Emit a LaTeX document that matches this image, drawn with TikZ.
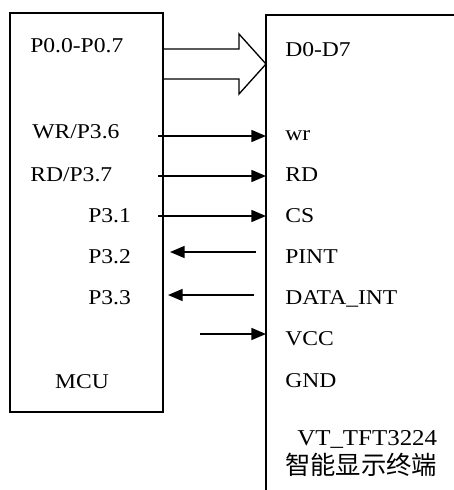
\documentclass[tikz,border=0pt]{standalone}
\usepackage{fontspec}
\setmainfont[FakeStretch=1.12]{Liberation Serif}
\newfontfamily\vtfnt[FakeStretch=1.1]{Liberation Serif}
\newfontfamily\cjkfnt{Noto Sans CJK SC}
\usetikzlibrary{arrows.meta}
\begin{document}
\begin{tikzpicture}[x=0.75pt,y=-0.75pt,
  lbl/.style={inner sep=0pt, anchor=base west, font=\fontsize{15.8}{18}\selectfont},
  boxline/.style={line width=1.5pt},
  sig/.style={line width=1.2pt, -{Triangle[length=11pt,width=9pt]}},
  busline/.style={line width=1pt, line join=miter}]
\useasboundingbox (0,0) rectangle (454,490);
\fill[white] (0,0) rectangle (454,490);
% MCU box
\coordinate (mcuNW) at (10,13);
\coordinate (mcuSE) at (163,412);
\draw[boxline] (mcuNW) rectangle (mcuSE);
% display box (open to the right and bottom)
\coordinate (lcdTR) at (454,15);
\coordinate (lcdTL) at (266,15);
\coordinate (lcdBL) at (266,490);
\draw[boxline] (lcdTR) -- (lcdTL) -- (lcdBL);
% left labels
\node[lbl] (p0) at (30,52) {P0.0-P0.7};
\node[lbl] (wrl) at (32,138) {WR/P3.6};
\node[lbl] (rdl) at (30,181) {RD/P3.7};
\node[lbl] (p31) at (88,222) {P3.1};
\node[lbl] (p32) at (88,263) {P3.2};
\node[lbl] (p33) at (88,304) {P3.3};
\node[lbl, anchor=base] (mcu) at (82,388) {MCU};
% right labels
\node[lbl] (d0) at (285,56) {D0-D7};
\node[lbl] (wr) at (285,140) {wr};
\node[lbl] (rd) at (285,181) {RD};
\node[lbl] (cs) at (285,222) {CS};
\node[lbl] (pint) at (285,263) {PINT};
\node[lbl] (dint) at (285,304) {DATA\_INT};
\node[lbl] (vcc) at (285,345) {VCC};
\node[lbl] (gnd) at (285,387) {GND};
\node[inner sep=0pt, anchor=base west, font=\vtfnt\fontsize{17}{20}\selectfont] (vt) at (297,445) {VT\_TFT3224};
\node[inner sep=0pt, anchor=west, font=\cjkfnt\fontsize{19}{22}\selectfont] (cn) at (285,465) {智能显示终端};
% bus arrow
\coordinate (b1) at (163,49);
\coordinate (b2) at (239,49);
\coordinate (b3) at (239,34);
\coordinate (bt) at (266,64);
\coordinate (b4) at (239,94);
\coordinate (b5) at (239,79);
\coordinate (b6) at (163,79);
\draw[busline] (b1) -- (b2) -- (b3) -- (bt) -- (b4) -- (b5) -- (b6);
% signals
\coordinate (wrA) at (158,136); \coordinate (wrB) at (266,136);
\coordinate (rdA) at (158,176); \coordinate (rdB) at (266,176);
\coordinate (csA) at (158,216); \coordinate (csB) at (266,216);
\coordinate (piA) at (256,252); \coordinate (piB) at (170,252);
\coordinate (diA) at (254,295); \coordinate (diB) at (168,295);
\coordinate (vcA) at (200,334); \coordinate (vcB) at (266,334);
\draw[sig] (wrA) -- (wrB);
\draw[sig] (rdA) -- (rdB);
\draw[sig] (csA) -- (csB);
\draw[sig] (piA) -- (piB);
\draw[sig] (diA) -- (diB);
\draw[sig] (vcA) -- (vcB);
\end{tikzpicture}
\end{document}
